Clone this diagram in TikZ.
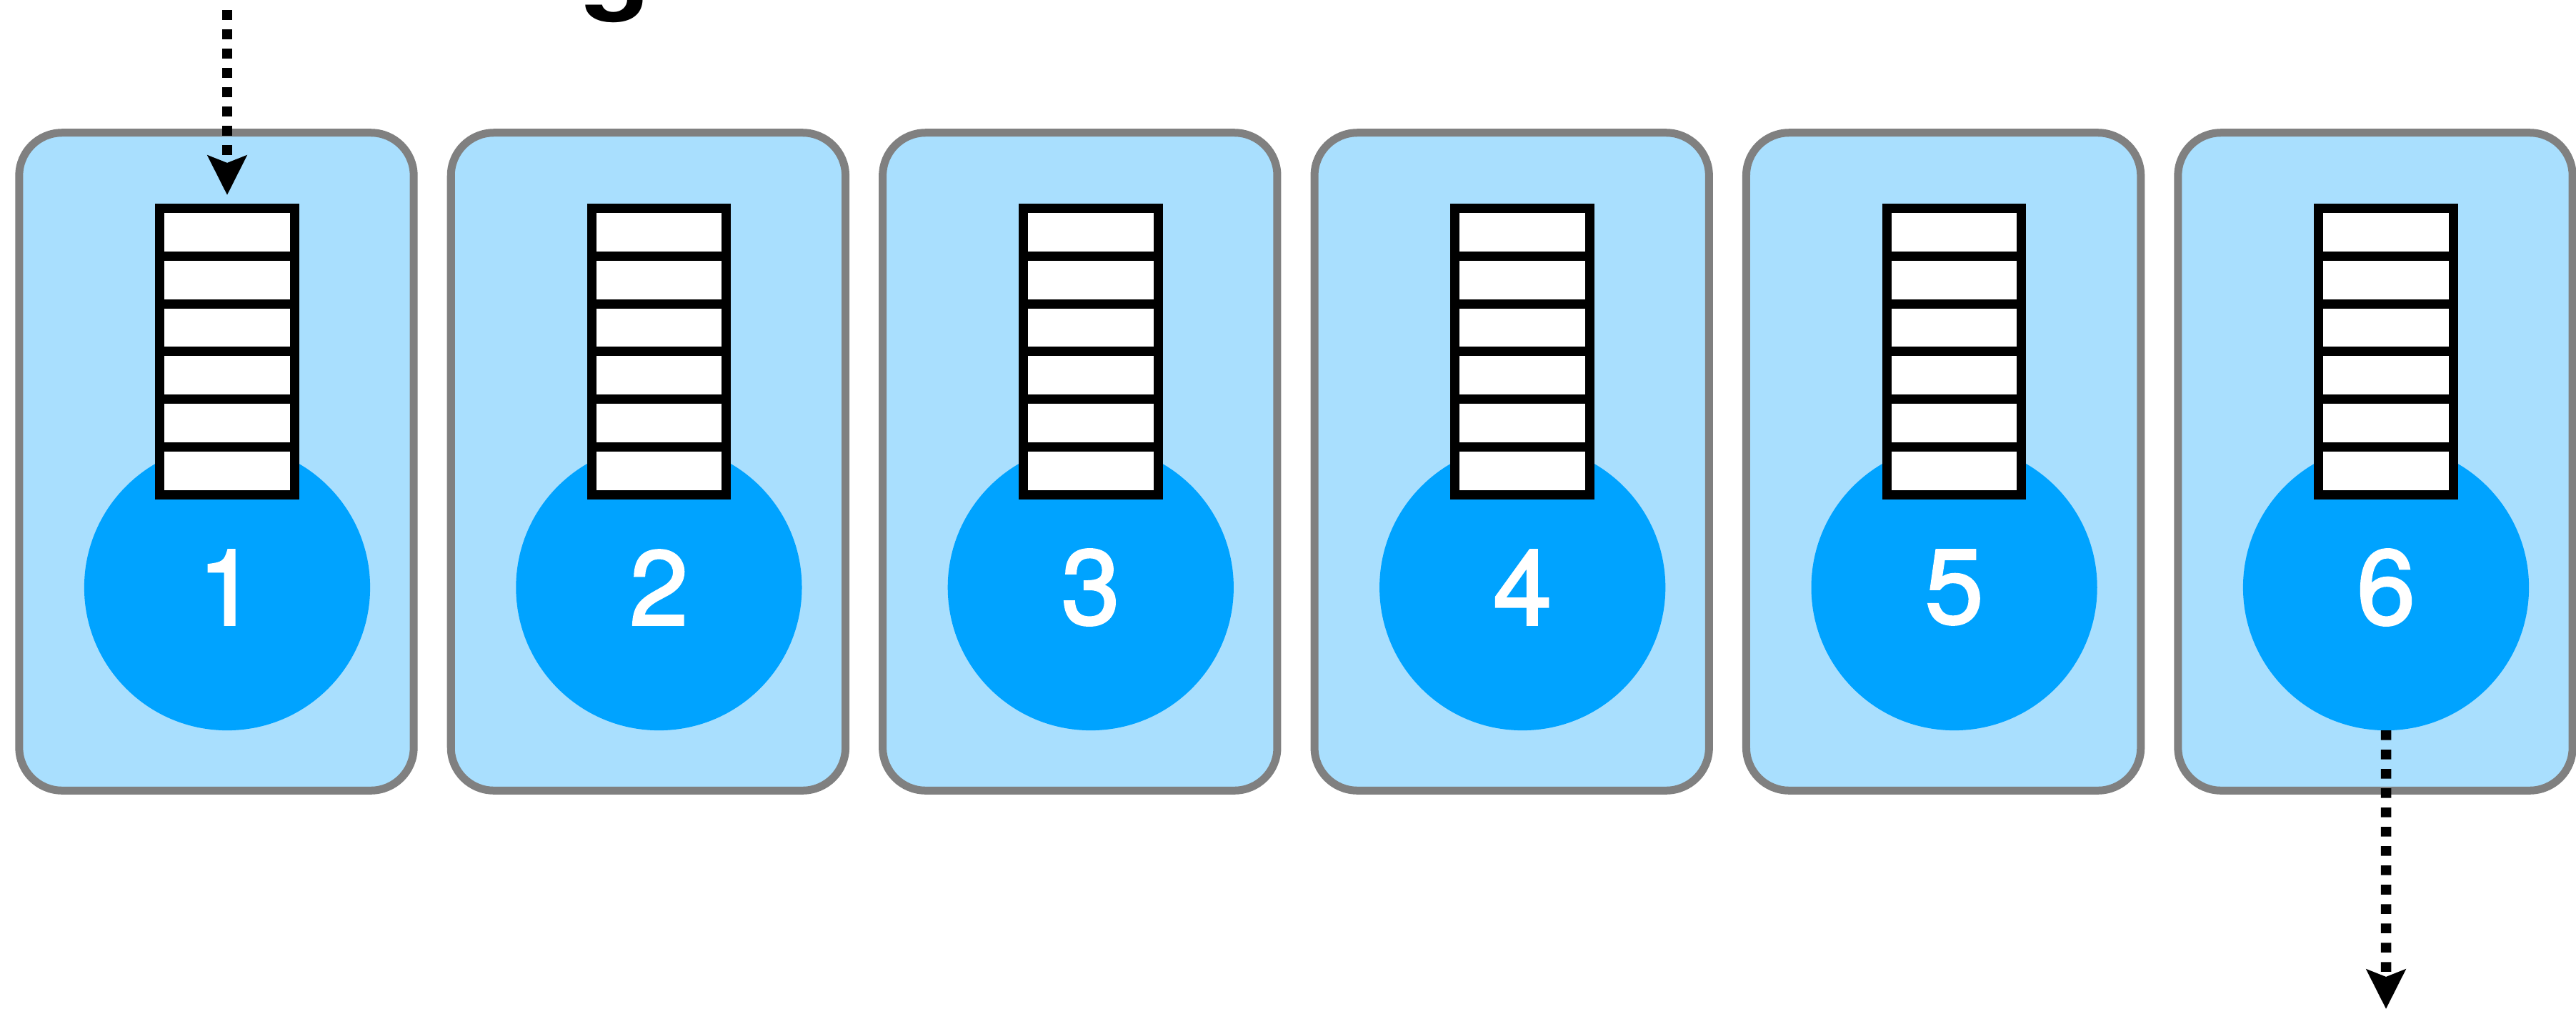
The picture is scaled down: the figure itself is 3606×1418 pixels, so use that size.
\documentclass[tikz,border=0pt]{standalone}
\usepackage{fontspec}
\setmainfont{TeX Gyre Heros}
\newfontfamily\numfont[FakeBold=2]{TeX Gyre Heros}
\usetikzlibrary{arrows.meta}
\definecolor{boxfill}{HTML}{A9DFFE}
\definecolor{boxline}{HTML}{808080}
\definecolor{dotfill}{HTML}{00A3FF}
\begin{document}
\begin{tikzpicture}[x=0.01cm,y=-0.01cm,
  cellbox/.style={draw=boxline, fill=boxfill, line width=0.11cm, rounded corners=0.6cm,
    minimum width=5.52cm, minimum height=9.2cm, inner sep=0, outer sep=0},
  disc/.style={circle, fill=dotfill, minimum size=4cm, inner sep=0, outer sep=0,
    text=white, font=\numfont\fontsize{42}{42}\selectfont},
  slot/.style={draw=black, fill=white, line width=0.13cm, minimum width=1.885cm,
    minimum height=0.668cm, inner sep=0},
  flow/.style={line width=0.145cm, dash pattern=on 0.135cm off 0.135cm,
    -{Stealth[length=0.55cm, width=0.54cm, inset=0.1cm]}},
  titletext/.style={anchor=base west, inner sep=0, font=\bfseries\fontsize{46}{46}\selectfont}]
\useasboundingbox (0,0) rectangle (3606,1418);
\node[titletext] (title) at (812,-3) {g};
\foreach \i in {1,...,6} {
  \pgfmathsetmacro\bx{303+604.4*(\i-1)}
  \pgfmathsetmacro\cx{318+604.4*(\i-1)}
  \node[cellbox] (box\i) at (\bx,646) {};
  \node[disc] (circ\i) at (\cx,822) {\i};
  \foreach \j in {1,...,6} {
    \pgfmathsetmacro\cy{291.5+66.8*(\j-0.5)}
    \node[slot] (cell\i\j) at (\cx,\cy) {};
  }
}
\coordinate (in1) at (318,14);
\coordinate (out6) at (3340,1412);
\draw[flow, shorten >=0.12cm] (in1) -- (cell11.north);
\draw[flow] (circ6.south) -- (out6);
\end{tikzpicture}
\end{document}
